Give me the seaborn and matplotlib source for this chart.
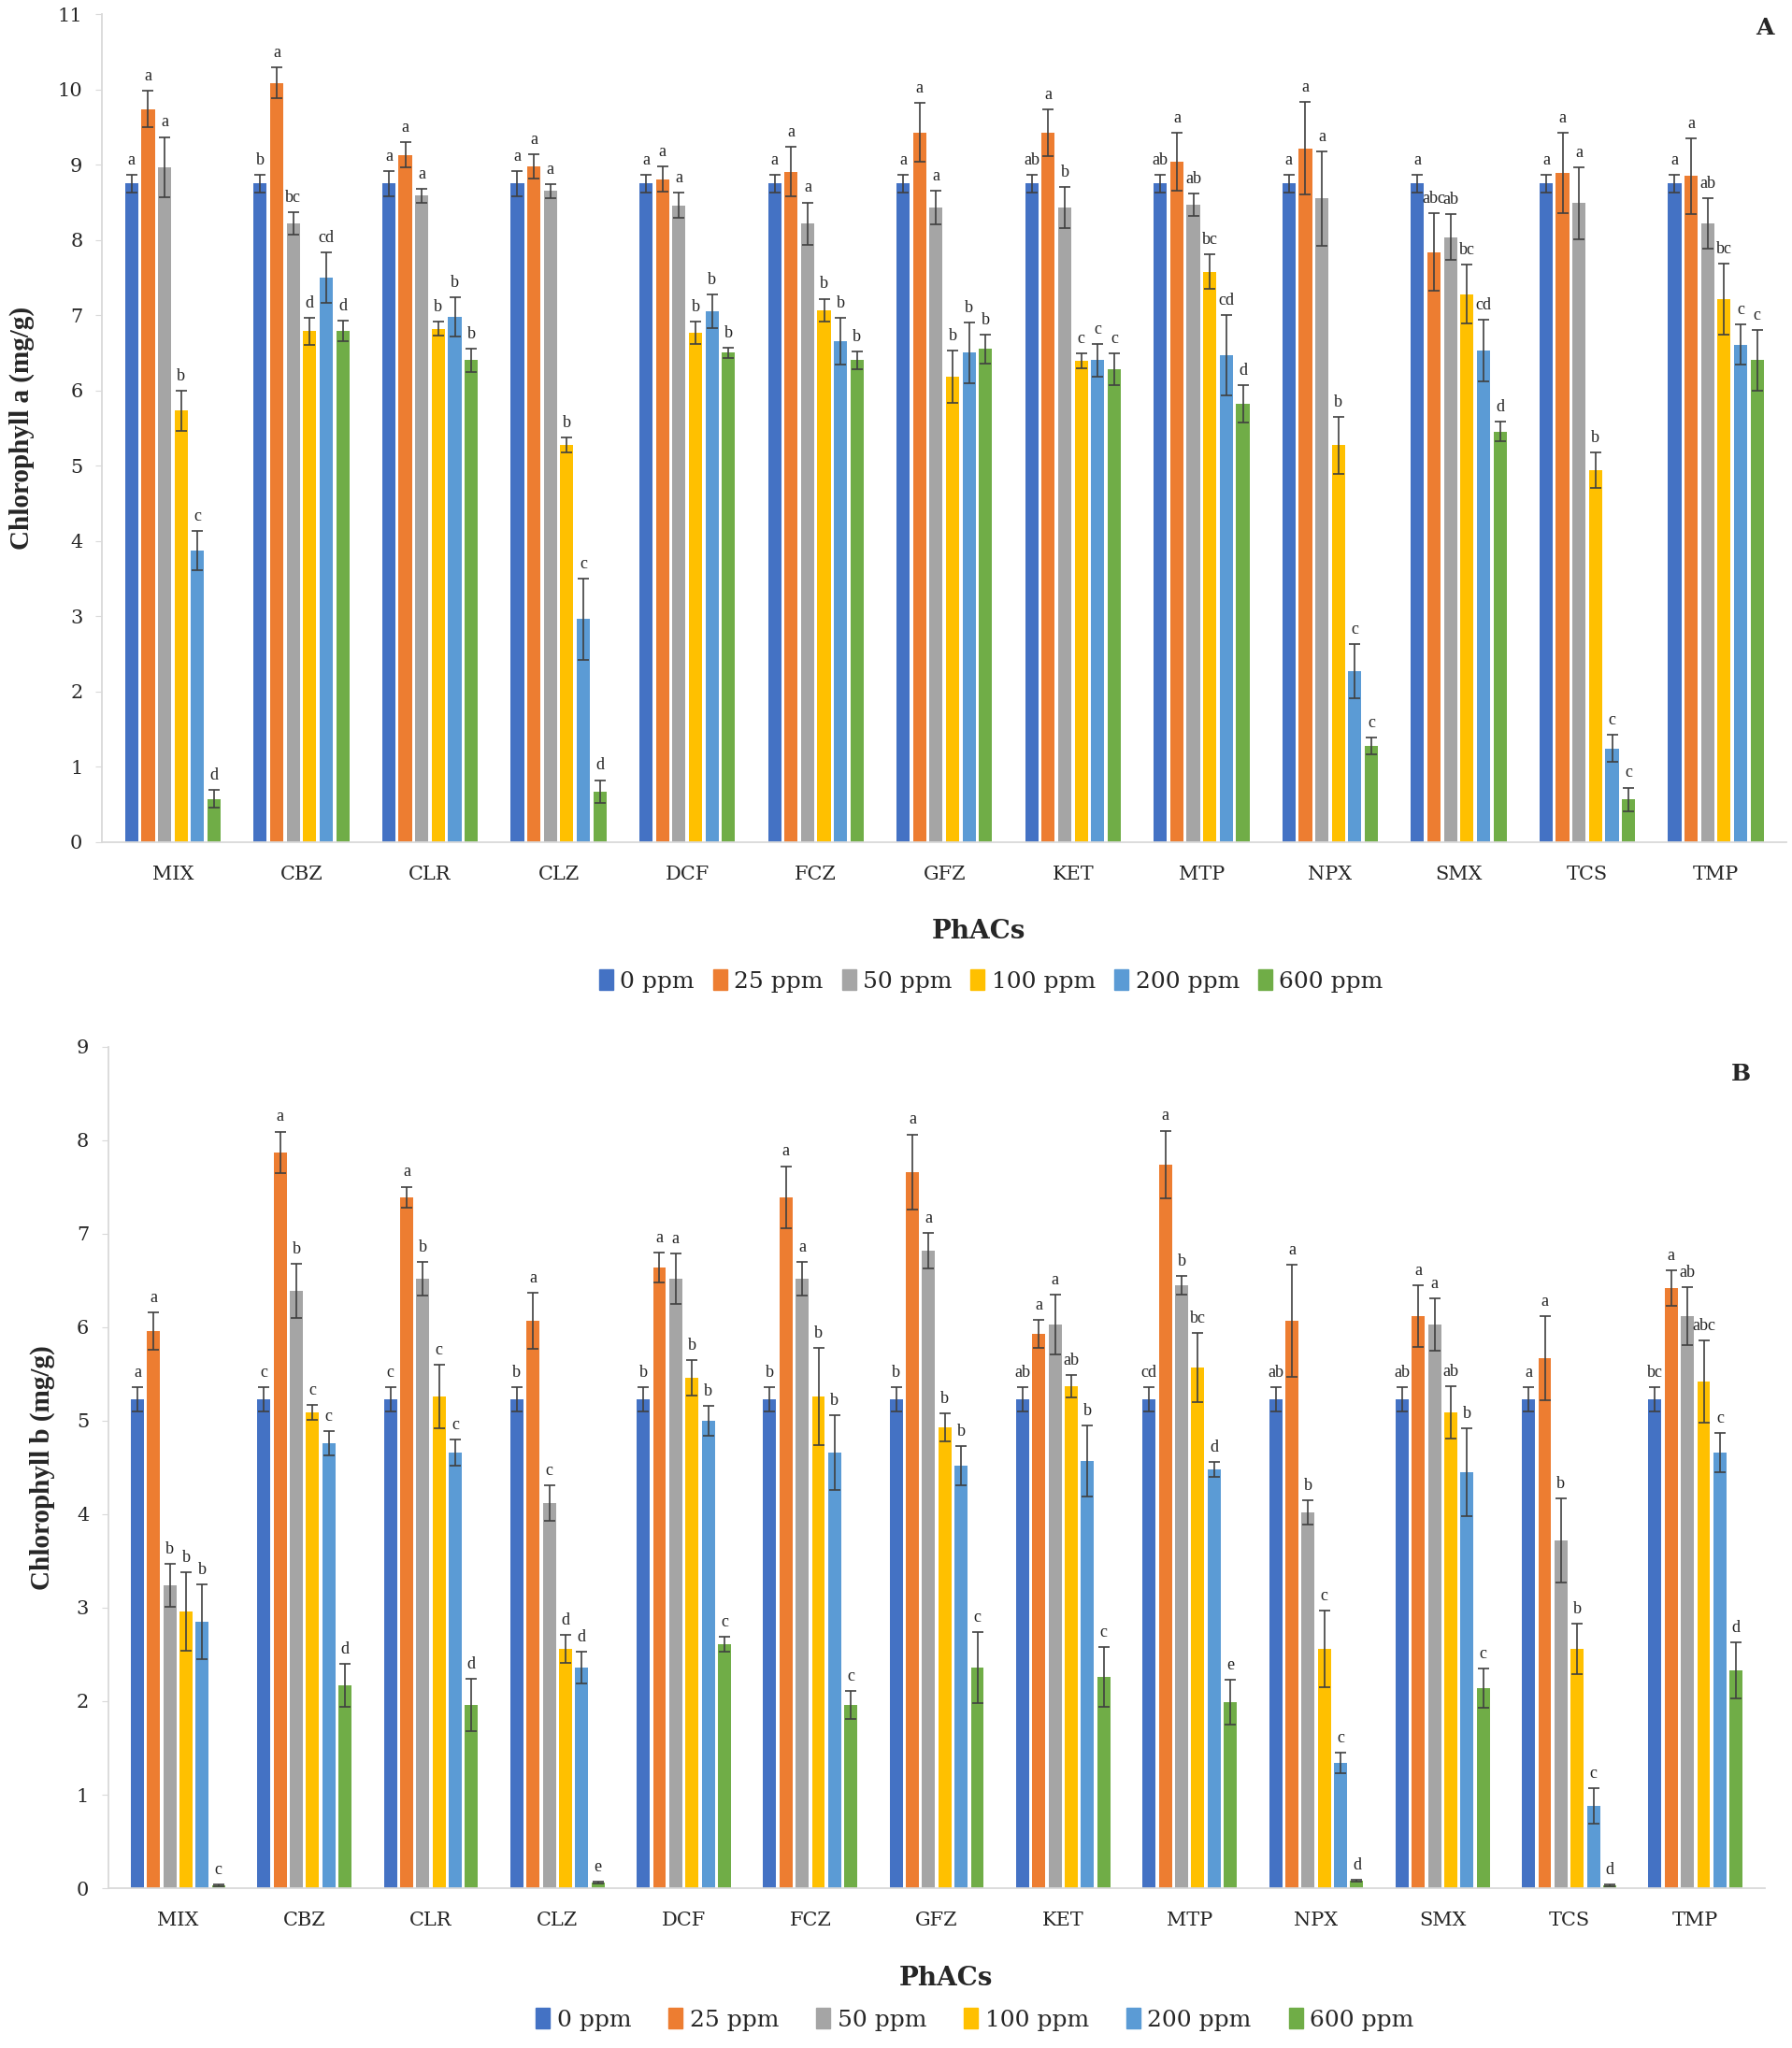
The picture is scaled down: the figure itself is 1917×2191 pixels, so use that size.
import matplotlib
matplotlib.use('Agg')
import matplotlib.pyplot as plt
import pandas as pd
import seaborn as sns

phacs = ["MIX", "CBZ", "CLR", "CLZ", "DCF", "FCZ", "GFZ", "KET", "MTP", "NPX", "SMX", "TCS", "TMP"]
concs = ["0 ppm", "25 ppm", "50 ppm", "100 ppm", "200 ppm", "600 ppm"]
colors = ["#4472C4", "#ED7D31", "#A5A5A5", "#FFC000", "#5B9BD5", "#70AD47"]

# Chlorophyll a, one list per PhAC: values for 0,25,50,100,200,600 ppm
chla = [
    [8.75, 9.74, 8.97, 5.73, 3.87, 0.57],
    [8.75, 10.09, 8.22, 6.79, 7.50, 6.79],
    [8.75, 9.13, 8.59, 6.82, 6.98, 6.40],
    [8.75, 8.98, 8.65, 5.27, 2.96, 0.67],
    [8.75, 8.81, 8.46, 6.77, 7.05, 6.50],
    [8.75, 8.91, 8.22, 7.07, 6.65, 6.40],
    [8.75, 9.43, 8.43, 6.18, 6.50, 6.55],
    [8.75, 9.43, 8.43, 6.39, 6.40, 6.28],
    [8.75, 9.04, 8.47, 7.58, 6.47, 5.82],
    [8.75, 9.22, 8.55, 5.27, 2.27, 1.27],
    [8.75, 7.84, 8.04, 7.28, 6.53, 5.45],
    [8.75, 8.89, 8.49, 4.94, 1.24, 0.56],
    [8.75, 8.85, 8.22, 7.21, 6.61, 6.40],
]
chla_err = [
    [0.12, 0.24, 0.40, 0.27, 0.26, 0.12],
    [0.12, 0.21, 0.15, 0.18, 0.33, 0.14],
    [0.17, 0.17, 0.09, 0.09, 0.26, 0.15],
    [0.17, 0.16, 0.09, 0.10, 0.54, 0.15],
    [0.12, 0.17, 0.17, 0.15, 0.22, 0.07],
    [0.12, 0.33, 0.28, 0.15, 0.31, 0.12],
    [0.12, 0.39, 0.22, 0.35, 0.40, 0.19],
    [0.12, 0.31, 0.27, 0.10, 0.22, 0.21],
    [0.12, 0.39, 0.15, 0.23, 0.53, 0.25],
    [0.12, 0.61, 0.63, 0.38, 0.36, 0.11],
    [0.12, 0.52, 0.30, 0.39, 0.41, 0.13],
    [0.12, 0.53, 0.48, 0.24, 0.18, 0.16],
    [0.12, 0.50, 0.34, 0.47, 0.27, 0.40],
]
chla_letters = [
    ["a", "a", "a", "b", "c", "d"],
    ["b", "a", "bc", "d", "cd", "d"],
    ["a", "a", "a", "b", "b", "b"],
    ["a", "a", "a", "b", "c", "d"],
    ["a", "a", "a", "b", "b", "b"],
    ["a", "a", "a", "b", "b", "b"],
    ["a", "a", "a", "b", "b", "b"],
    ["ab", "a", "b", "c", "c", "c"],
    ["ab", "a", "ab", "bc", "cd", "d"],
    ["a", "a", "a", "b", "c", "c"],
    ["a", "abc", "ab", "bc", "cd", "d"],
    ["a", "a", "a", "b", "c", "c"],
    ["a", "a", "ab", "bc", "c", "c"],
]

# Chlorophyll b
chlb = [
    [5.23, 5.96, 3.24, 2.96, 2.85, 0.03],
    [5.23, 7.87, 6.39, 5.09, 4.76, 2.17],
    [5.23, 7.39, 6.52, 5.26, 4.66, 1.96],
    [5.23, 6.07, 4.12, 2.56, 2.36, 0.06],
    [5.23, 6.64, 6.52, 5.46, 5.00, 2.61],
    [5.23, 7.39, 6.52, 5.26, 4.66, 1.96],
    [5.23, 7.66, 6.82, 4.93, 4.52, 2.36],
    [5.23, 5.93, 6.03, 5.37, 4.57, 2.26],
    [5.23, 7.74, 6.45, 5.57, 4.48, 1.99],
    [5.23, 6.07, 4.02, 2.56, 1.34, 0.08],
    [5.23, 6.12, 6.03, 5.09, 4.45, 2.14],
    [5.23, 5.67, 3.72, 2.56, 0.88, 0.03],
    [5.23, 6.42, 6.12, 5.42, 4.66, 2.33],
]
chlb_err = [
    [0.13, 0.20, 0.23, 0.42, 0.40, 0.01],
    [0.13, 0.22, 0.29, 0.08, 0.13, 0.23],
    [0.13, 0.11, 0.18, 0.34, 0.14, 0.28],
    [0.13, 0.30, 0.19, 0.15, 0.17, 0.01],
    [0.13, 0.16, 0.27, 0.19, 0.16, 0.08],
    [0.13, 0.33, 0.18, 0.52, 0.40, 0.15],
    [0.13, 0.40, 0.19, 0.15, 0.21, 0.38],
    [0.13, 0.15, 0.32, 0.12, 0.38, 0.32],
    [0.13, 0.36, 0.10, 0.37, 0.08, 0.24],
    [0.13, 0.60, 0.13, 0.41, 0.11, 0.01],
    [0.13, 0.33, 0.28, 0.28, 0.47, 0.21],
    [0.13, 0.45, 0.45, 0.27, 0.19, 0.01],
    [0.13, 0.19, 0.31, 0.44, 0.21, 0.30],
]
chlb_letters = [
    ["a", "a", "b", "b", "b", "c"],
    ["c", "a", "b", "c", "c", "d"],
    ["c", "a", "b", "c", "c", "d"],
    ["b", "a", "c", "d", "d", "e"],
    ["b", "a", "a", "b", "b", "c"],
    ["b", "a", "a", "b", "b", "c"],
    ["b", "a", "a", "b", "b", "c"],
    ["ab", "a", "a", "ab", "b", "c"],
    ["cd", "a", "b", "bc", "d", "e"],
    ["ab", "a", "b", "c", "c", "d"],
    ["ab", "a", "a", "ab", "b", "c"],
    ["a", "a", "b", "b", "c", "d"],
    ["bc", "a", "ab", "abc", "c", "d"],
]

sns.set_style("white")
plt.rcParams['font.family'] = ['DejaVu Serif']


def to_long(vals):
    rows = []
    for i, p in enumerate(phacs):
        for j, c in enumerate(concs):
            rows.append({"PhAC": p, "conc": c, "value": vals[i][j]})
    return pd.DataFrame(rows)


def draw_panel(ax, vals, errs, letters, ymax, ylabel):
    df = to_long(vals)
    sns.barplot(data=df, x="PhAC", y="value", hue="conc", order=phacs, hue_order=concs,
                palette=colors, width=0.77, gap=0.2, errorbar=None, saturation=1,
                linewidth=0, ax=ax)
    bar_groups = list(ax.containers)
    for j, cont in enumerate(bar_groups):
        for i, bar in enumerate(cont.patches):
            xc = bar.get_x() + bar.get_width() / 2
            h = bar.get_height()
            e = errs[i][j]
            ax.errorbar(xc, h, yerr=e, fmt="none", ecolor="#404040", elinewidth=1.2,
                        capsize=4.5, capthick=1.2)
            ax.text(xc, h + e + ymax * 0.008, letters[i][j], ha="center", va="bottom",
                    fontsize=13, color="#222222", family="Liberation Serif")
    ax.set_ylim(0, ymax)
    ax.set_yticks(range(0, ymax + 1))
    ax.set_xlim(-0.55, len(phacs) - 0.45)
    ax.set_xlabel("")
    ax.set_ylabel(ylabel, fontsize=21, fontweight="bold", family="Liberation Serif")
    for s in ["top", "right"]:
        ax.spines[s].set_visible(False)
    for s in ["left", "bottom"]:
        ax.spines[s].set_color("#D9D9D9")
        ax.spines[s].set_linewidth(1.3)
    ax.tick_params(axis="y", labelsize=15, length=5, color="#D9D9D9", pad=10, left=True)
    ax.tick_params(axis="x", labelsize=15, length=0, pad=18)
    if ax.get_legend() is not None:
        ax.get_legend().remove()


fig = plt.figure(figsize=(19.17, 21.91), dpi=100)
ax1 = fig.add_axes([0.057, 0.589, 0.94, 0.404])
ax2 = fig.add_axes([0.0605, 0.078, 0.9245, 0.411])

draw_panel(ax1, chla, chla_err, chla_letters, 11, "Chlorophyll a (mg/g)")
draw_panel(ax2, chlb, chlb_err, chlb_letters, 9, "Chlorophyll b (mg/g)")
ax1.yaxis.set_label_coords(-0.040, 0.5)
ax2.yaxis.set_label_coords(-0.032, 0.5)

fig.text(0.546, 0.545, "PhACs", ha="center", va="center", fontsize=20, fontweight="bold")
fig.text(0.528, 0.034, "PhACs", ha="center", va="center", fontsize=20, fontweight="bold")
fig.text(0.99, 0.992, "A", ha="right", va="top", fontsize=18, fontweight="bold")
fig.text(0.977, 0.481, "B", ha="right", va="top", fontsize=18, fontweight="bold")

handles = [plt.Rectangle((0, 0), 1, 1, color=c) for c in colors]
fig.legend(handles, concs, loc="center", bbox_to_anchor=(0.553, 0.521), ncol=6,
           frameon=False, fontsize=18, handlelength=0.6, handleheight=1.0,
           handletextpad=0.3, columnspacing=0.8)
fig.legend(handles, concs, loc="center", bbox_to_anchor=(0.544, 0.014), ncol=6,
           frameon=False, fontsize=18, handlelength=0.6, handleheight=1.0,
           handletextpad=0.3, columnspacing=1.6)

fig.savefig("out.png", dpi=100)
